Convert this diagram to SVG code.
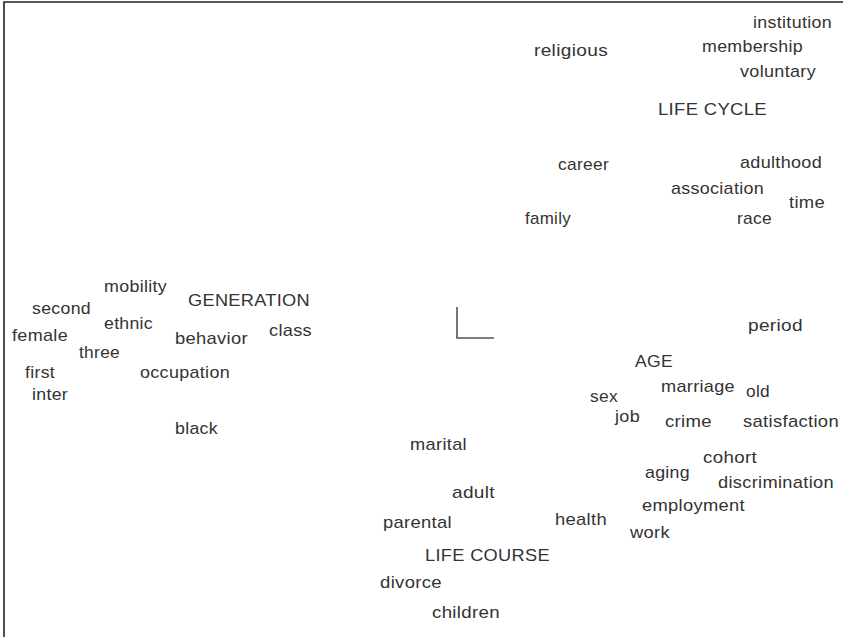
<svg xmlns="http://www.w3.org/2000/svg" width="843" height="637" viewBox="0 0 843 637">
<style>
text{font-family:"Liberation Sans",Arial,sans-serif;font-size:17px;fill:#333;letter-spacing:0.3px}
.frame{stroke:#222;stroke-width:1.6;fill:none}
.axis{stroke:#555;stroke-width:1.6;fill:none}
</style>
<rect width="843" height="637" fill="#fff"/>
<path class="frame" d="M4,637 V2 H843"/>
<path class="axis" d="M457,307 V338 H494"/>
<g id="w-institution"><text x="753" y="28" textLength="79" lengthAdjust="spacingAndGlyphs">institution</text></g>
<g id="w-membership"><text x="702" y="52" textLength="101" lengthAdjust="spacingAndGlyphs">membership</text></g>
<g id="w-voluntary"><text x="740" y="77" textLength="76" lengthAdjust="spacingAndGlyphs">voluntary</text></g>
<g id="w-religious"><text x="534" y="56" textLength="74" lengthAdjust="spacingAndGlyphs">religious</text></g>
<g id="w-lifecycle"><text x="658" y="115" textLength="109" lengthAdjust="spacingAndGlyphs">LIFE CYCLE</text></g>
<g id="w-career"><text x="558" y="170" textLength="51" lengthAdjust="spacingAndGlyphs">career</text></g>
<g id="w-adulthood"><text x="740" y="168" textLength="82" lengthAdjust="spacingAndGlyphs">adulthood</text></g>
<g id="w-association"><text x="671" y="194" textLength="93" lengthAdjust="spacingAndGlyphs">association</text></g>
<g id="w-time"><text x="789" y="208" textLength="36" lengthAdjust="spacingAndGlyphs">time</text></g>
<g id="w-race"><text x="737" y="224" textLength="35" lengthAdjust="spacingAndGlyphs">race</text></g>
<g id="w-family"><text x="525" y="224" textLength="46" lengthAdjust="spacingAndGlyphs">family</text></g>
<g id="w-mobility"><text x="104" y="292" textLength="63" lengthAdjust="spacingAndGlyphs">mobility</text></g>
<g id="w-generation"><text x="188" y="306" textLength="122" lengthAdjust="spacingAndGlyphs">GENERATION</text></g>
<g id="w-second"><text x="32" y="314" textLength="59" lengthAdjust="spacingAndGlyphs">second</text></g>
<g id="w-ethnic"><text x="104" y="329" textLength="49" lengthAdjust="spacingAndGlyphs">ethnic</text></g>
<g id="w-female"><text x="12" y="341" textLength="56" lengthAdjust="spacingAndGlyphs">female</text></g>
<g id="w-behavior"><text x="175" y="344" textLength="73" lengthAdjust="spacingAndGlyphs">behavior</text></g>
<g id="w-class"><text x="269" y="336" textLength="43" lengthAdjust="spacingAndGlyphs">class</text></g>
<g id="w-three"><text x="79" y="358" textLength="41" lengthAdjust="spacingAndGlyphs">three</text></g>
<g id="w-first"><text x="25" y="378" textLength="30" lengthAdjust="spacingAndGlyphs">first</text></g>
<g id="w-occupation"><text x="140" y="378" textLength="90" lengthAdjust="spacingAndGlyphs">occupation</text></g>
<g id="w-inter"><text x="32" y="400" textLength="36" lengthAdjust="spacingAndGlyphs">inter</text></g>
<g id="w-black"><text x="175" y="434" textLength="43" lengthAdjust="spacingAndGlyphs">black</text></g>
<g id="w-period"><text x="748" y="331" textLength="55" lengthAdjust="spacingAndGlyphs">period</text></g>
<g id="w-age"><text x="635" y="367" textLength="38" lengthAdjust="spacingAndGlyphs">AGE</text></g>
<g id="w-marriage"><text x="661" y="392" textLength="74" lengthAdjust="spacingAndGlyphs">marriage</text></g>
<g id="w-old"><text x="746" y="397" textLength="24" lengthAdjust="spacingAndGlyphs">old</text></g>
<g id="w-sex"><text x="590" y="402" textLength="28" lengthAdjust="spacingAndGlyphs">sex</text></g>
<g id="w-job"><text x="615" y="422" textLength="25" lengthAdjust="spacingAndGlyphs">job</text></g>
<g id="w-crime"><text x="665" y="427" textLength="47" lengthAdjust="spacingAndGlyphs">crime</text></g>
<g id="w-satisfaction"><text x="743" y="427" textLength="96" lengthAdjust="spacingAndGlyphs">satisfaction</text></g>
<g id="w-marital"><text x="410" y="450" textLength="57" lengthAdjust="spacingAndGlyphs">marital</text></g>
<g id="w-cohort"><text x="703" y="463" textLength="54" lengthAdjust="spacingAndGlyphs">cohort</text></g>
<g id="w-aging"><text x="645" y="478" textLength="45" lengthAdjust="spacingAndGlyphs">aging</text></g>
<g id="w-discrimination"><text x="718" y="488" textLength="116" lengthAdjust="spacingAndGlyphs">discrimination</text></g>
<g id="w-adult"><text x="452" y="498" textLength="43" lengthAdjust="spacingAndGlyphs">adult</text></g>
<g id="w-employment"><text x="642" y="511" textLength="103" lengthAdjust="spacingAndGlyphs">employment</text></g>
<g id="w-parental"><text x="383" y="528" textLength="69" lengthAdjust="spacingAndGlyphs">parental</text></g>
<g id="w-health"><text x="555" y="525" textLength="52" lengthAdjust="spacingAndGlyphs">health</text></g>
<g id="w-work"><text x="630" y="538" textLength="40" lengthAdjust="spacingAndGlyphs">work</text></g>
<g id="w-lifecourse"><text x="425" y="561" textLength="125" lengthAdjust="spacingAndGlyphs">LIFE COURSE</text></g>
<g id="w-divorce"><text x="380" y="588" textLength="62" lengthAdjust="spacingAndGlyphs">divorce</text></g>
<g id="w-children"><text x="432" y="618" textLength="68" lengthAdjust="spacingAndGlyphs">children</text></g>
</svg>
